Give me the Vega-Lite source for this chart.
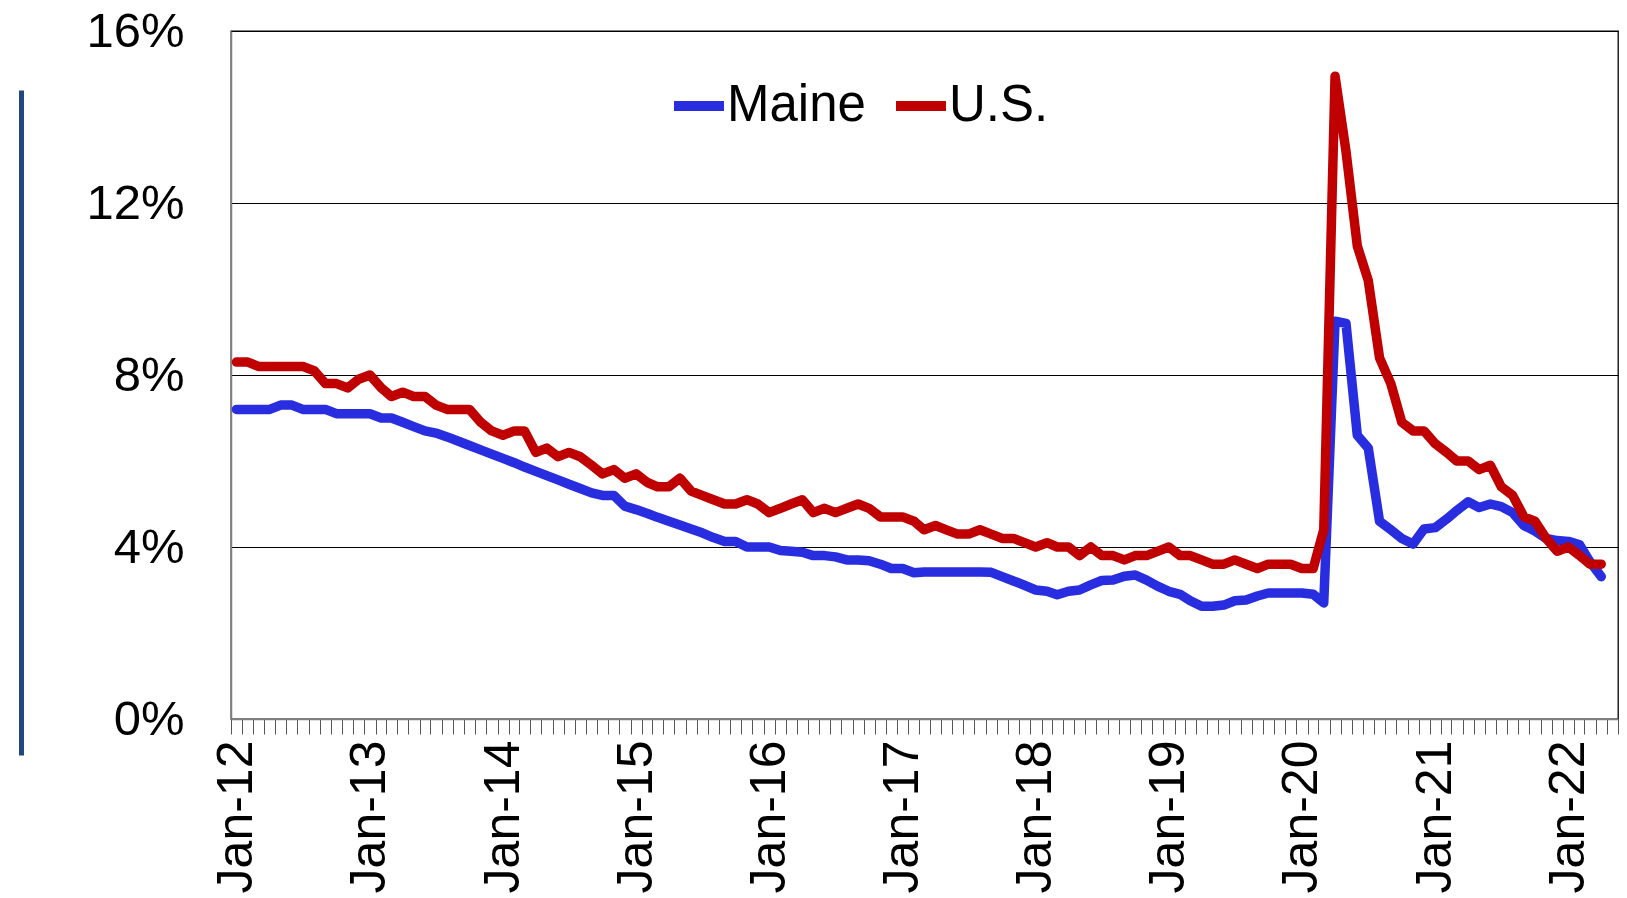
{
  "$schema": "https://vega.github.io/schema/vega-lite/v6.json",
  "width": 1387,
  "height": 688,
  "autosize": "none",
  "padding": {"left": 231, "top": 31, "right": 9, "bottom": 179},
  "background": "white",
  "config": {
    "font": "Liberation Sans",
    "view": {"stroke": "#000", "strokeWidth": 1.3}
  },
  "data": {"values": [
    {"d":"2012-01-16","Maine":7.2,"US":8.3},{"d":"2012-02-16","Maine":7.2,"US":8.3},{"d":"2012-03-16","Maine":7.2,"US":8.2},{"d":"2012-04-16","Maine":7.2,"US":8.2},
    {"d":"2012-05-16","Maine":7.3,"US":8.2},{"d":"2012-06-16","Maine":7.3,"US":8.2},{"d":"2012-07-16","Maine":7.2,"US":8.2},{"d":"2012-08-16","Maine":7.2,"US":8.1},
    {"d":"2012-09-16","Maine":7.2,"US":7.8},{"d":"2012-10-16","Maine":7.1,"US":7.8},{"d":"2012-11-16","Maine":7.1,"US":7.7},{"d":"2012-12-16","Maine":7.1,"US":7.9},
    {"d":"2013-01-16","Maine":7.1,"US":8.0},{"d":"2013-02-16","Maine":7.0,"US":7.7},{"d":"2013-03-16","Maine":7.0,"US":7.5},{"d":"2013-04-16","Maine":6.9,"US":7.6},
    {"d":"2013-05-16","Maine":6.8,"US":7.5},{"d":"2013-06-16","Maine":6.7,"US":7.5},{"d":"2013-07-16","Maine":6.65,"US":7.3},{"d":"2013-08-16","Maine":6.56,"US":7.2},
    {"d":"2013-09-16","Maine":6.46,"US":7.2},{"d":"2013-10-16","Maine":6.36,"US":7.2},{"d":"2013-11-16","Maine":6.26,"US":6.9},{"d":"2013-12-16","Maine":6.16,"US":6.7},
    {"d":"2014-01-16","Maine":6.06,"US":6.6},{"d":"2014-02-16","Maine":5.96,"US":6.7},{"d":"2014-03-16","Maine":5.86,"US":6.7},{"d":"2014-04-16","Maine":5.76,"US":6.2},
    {"d":"2014-05-16","Maine":5.66,"US":6.3},{"d":"2014-06-16","Maine":5.56,"US":6.1},{"d":"2014-07-16","Maine":5.46,"US":6.2},{"d":"2014-08-16","Maine":5.36,"US":6.1},
    {"d":"2014-09-16","Maine":5.26,"US":5.9},{"d":"2014-10-16","Maine":5.2,"US":5.7},{"d":"2014-11-16","Maine":5.2,"US":5.8},{"d":"2014-12-16","Maine":4.95,"US":5.6},
    {"d":"2015-01-16","Maine":4.87,"US":5.7},{"d":"2015-02-16","Maine":4.78,"US":5.5},{"d":"2015-03-16","Maine":4.69,"US":5.4},{"d":"2015-04-16","Maine":4.6,"US":5.4},
    {"d":"2015-05-16","Maine":4.51,"US":5.6},{"d":"2015-06-16","Maine":4.42,"US":5.3},{"d":"2015-07-16","Maine":4.33,"US":5.2},{"d":"2015-08-16","Maine":4.22,"US":5.1},
    {"d":"2015-09-16","Maine":4.13,"US":5.0},{"d":"2015-10-16","Maine":4.13,"US":5.0},{"d":"2015-11-16","Maine":4.0,"US":5.1},{"d":"2015-12-16","Maine":4.0,"US":5.0},
    {"d":"2016-01-16","Maine":4.0,"US":4.8},{"d":"2016-02-16","Maine":3.92,"US":4.9},{"d":"2016-03-16","Maine":3.9,"US":5.0},{"d":"2016-04-16","Maine":3.88,"US":5.1},
    {"d":"2016-05-16","Maine":3.8,"US":4.8},{"d":"2016-06-16","Maine":3.8,"US":4.9},{"d":"2016-07-16","Maine":3.77,"US":4.8},{"d":"2016-08-16","Maine":3.7,"US":4.9},
    {"d":"2016-09-16","Maine":3.7,"US":5.0},{"d":"2016-10-16","Maine":3.68,"US":4.9},{"d":"2016-11-16","Maine":3.6,"US":4.7},{"d":"2016-12-16","Maine":3.5,"US":4.7},
    {"d":"2017-01-16","Maine":3.5,"US":4.7},{"d":"2017-02-16","Maine":3.4,"US":4.6},{"d":"2017-03-16","Maine":3.42,"US":4.4},{"d":"2017-04-16","Maine":3.42,"US":4.5},
    {"d":"2017-05-16","Maine":3.42,"US":4.4},{"d":"2017-06-16","Maine":3.42,"US":4.3},{"d":"2017-07-16","Maine":3.42,"US":4.3},{"d":"2017-08-16","Maine":3.42,"US":4.4},
    {"d":"2017-09-16","Maine":3.41,"US":4.3},{"d":"2017-10-16","Maine":3.31,"US":4.2},{"d":"2017-11-16","Maine":3.21,"US":4.2},{"d":"2017-12-16","Maine":3.11,"US":4.1},
    {"d":"2018-01-16","Maine":3.0,"US":4.0},{"d":"2018-02-16","Maine":2.97,"US":4.1},{"d":"2018-03-16","Maine":2.89,"US":4.0},{"d":"2018-04-16","Maine":2.97,"US":4.0},
    {"d":"2018-05-16","Maine":3.0,"US":3.8},{"d":"2018-06-16","Maine":3.12,"US":4.0},{"d":"2018-07-16","Maine":3.22,"US":3.8},{"d":"2018-08-16","Maine":3.23,"US":3.8},
    {"d":"2018-09-16","Maine":3.32,"US":3.7},{"d":"2018-10-16","Maine":3.35,"US":3.8},{"d":"2018-11-16","Maine":3.23,"US":3.8},{"d":"2018-12-16","Maine":3.09,"US":3.9},
    {"d":"2019-01-16","Maine":2.97,"US":4.0},{"d":"2019-02-16","Maine":2.9,"US":3.8},{"d":"2019-03-16","Maine":2.75,"US":3.8},{"d":"2019-04-16","Maine":2.62,"US":3.7},
    {"d":"2019-05-16","Maine":2.62,"US":3.6},{"d":"2019-06-16","Maine":2.65,"US":3.6},{"d":"2019-07-16","Maine":2.75,"US":3.7},{"d":"2019-08-16","Maine":2.77,"US":3.6},
    {"d":"2019-09-16","Maine":2.86,"US":3.5},{"d":"2019-10-16","Maine":2.93,"US":3.6},{"d":"2019-11-16","Maine":2.93,"US":3.6},{"d":"2019-12-16","Maine":2.93,"US":3.6},
    {"d":"2020-01-16","Maine":2.93,"US":3.5},{"d":"2020-02-16","Maine":2.9,"US":3.5},{"d":"2020-03-16","Maine":2.7,"US":4.4},{"d":"2020-04-16","Maine":9.25,"US":14.95},
    {"d":"2020-05-16","Maine":9.2,"US":13.2},{"d":"2020-06-16","Maine":6.6,"US":11.0},{"d":"2020-07-16","Maine":6.3,"US":10.2},{"d":"2020-08-16","Maine":4.6,"US":8.4},
    {"d":"2020-09-16","Maine":4.4,"US":7.8},{"d":"2020-10-16","Maine":4.2,"US":6.9},{"d":"2020-11-16","Maine":4.07,"US":6.7},{"d":"2020-12-16","Maine":4.42,"US":6.7},
    {"d":"2021-01-16","Maine":4.45,"US":6.4},{"d":"2021-02-16","Maine":4.65,"US":6.2},{"d":"2021-03-16","Maine":4.85,"US":6.0},{"d":"2021-04-16","Maine":5.05,"US":6.0},
    {"d":"2021-05-16","Maine":4.92,"US":5.8},{"d":"2021-06-16","Maine":5.0,"US":5.9},{"d":"2021-07-16","Maine":4.94,"US":5.4},{"d":"2021-08-16","Maine":4.8,"US":5.2},
    {"d":"2021-09-16","Maine":4.5,"US":4.7},{"d":"2021-10-16","Maine":4.37,"US":4.6},{"d":"2021-11-16","Maine":4.2,"US":4.2},{"d":"2021-12-16","Maine":4.15,"US":3.9},
    {"d":"2022-01-16","Maine":4.13,"US":4.0},{"d":"2022-02-16","Maine":4.05,"US":3.8},{"d":"2022-03-16","Maine":3.66,"US":3.6},{"d":"2022-04-16","Maine":3.31,"US":3.6}
  ]},
  "transform": [{"fold": ["Maine", "US"], "as": ["series", "rate"]}],
  "layer": [
    {
      "mark": {"type": "line", "strokeWidth": 9.5, "strokeCap": "round", "strokeJoin": "round"},
      "encoding": {
        "x": {
          "field": "d", "type": "temporal",
          "scale": {"type": "utc", "domain": [{"year": 2012, "month": 1, "date": 1, "utc": true}, {"year": 2022, "month": 6, "date": 1, "utc": true}]},
          "axis": {
            "title": null,
            "tickCount": {"interval": "month", "step": 1},
            "labelExpr": "utcmonth(datum.value) == 0 ? utcFormat(datum.value, '%b-%y') : ''",
            "labelAngle": 270,
            "labelOffset": 5.5,
            "labelFontSize": 50,
            "labelColor": "#000",
            "labelOverlap": false,
            "labelFlush": false,
            "labelBound": false,
            "labelPadding": 6,
            "ticks": true,
            "tickSize": 15,
            "tickColor": "#555",
            "tickWidth": 1,
            "domainColor": "#7f7f7f",
            "domainWidth": 1.5,
            "grid": false
          }
        },
        "y": {
          "field": "rate", "type": "quantitative",
          "scale": {"domain": [0, 16], "nice": false, "zero": true},
          "axis": {
            "title": null,
            "values": [0, 4, 8, 12, 16],
            "labelExpr": "datum.value + '%'",
            "labelFontSize": 49,
            "labelColor": "#000",
            "labelPadding": 47,
            "ticks": false,
            "grid": true,
            "gridColor": "#000",
            "gridWidth": 1,
            "domainColor": "#7f7f7f",
            "domainWidth": 1.5,
            "labelFlush": false
          }
        },
        "color": {
          "field": "series", "type": "nominal",
          "scale": {"domain": ["Maine", "US"], "range": ["#292DE0", "#C00000"]},
          "legend": {
            "orient": "none",
            "legendX": 438,
            "legendY": 45,
            "direction": "horizontal",
            "title": null,
            "symbolType": "stroke",
            "symbolSize": 2500,
            "symbolStrokeWidth": 10,
            "labelFontSize": 51,
            "labelColor": "#000",
            "labelOffset": -2,
            "columnPadding": 10,
            "padding": 0,
            "labelExpr": "datum.label == 'US' ? 'U.S.' : datum.label"
          }
        }
      }
    },
    {
      "mark": {"type": "line", "strokeOpacity": 0},
      "encoding": {
        "x": {"field": "d", "type": "temporal"},
        "y": {
          "field": "rate", "type": "quantitative",
          "scale": {"domain": [0, 16], "nice": false, "range": [724, 59]},
          "axis": {
            "orient": "left", "offset": 210, "title": null, "labels": false, "ticks": false, "grid": false,
            "domain": true, "domainColor": "#1F497D", "domainWidth": 5
          }
        },
        "detail": {"field": "series"}
      }
    }
  ],
  "resolve": {"axis": {"y": "independent"}, "scale": {"y": "independent"}}
}
